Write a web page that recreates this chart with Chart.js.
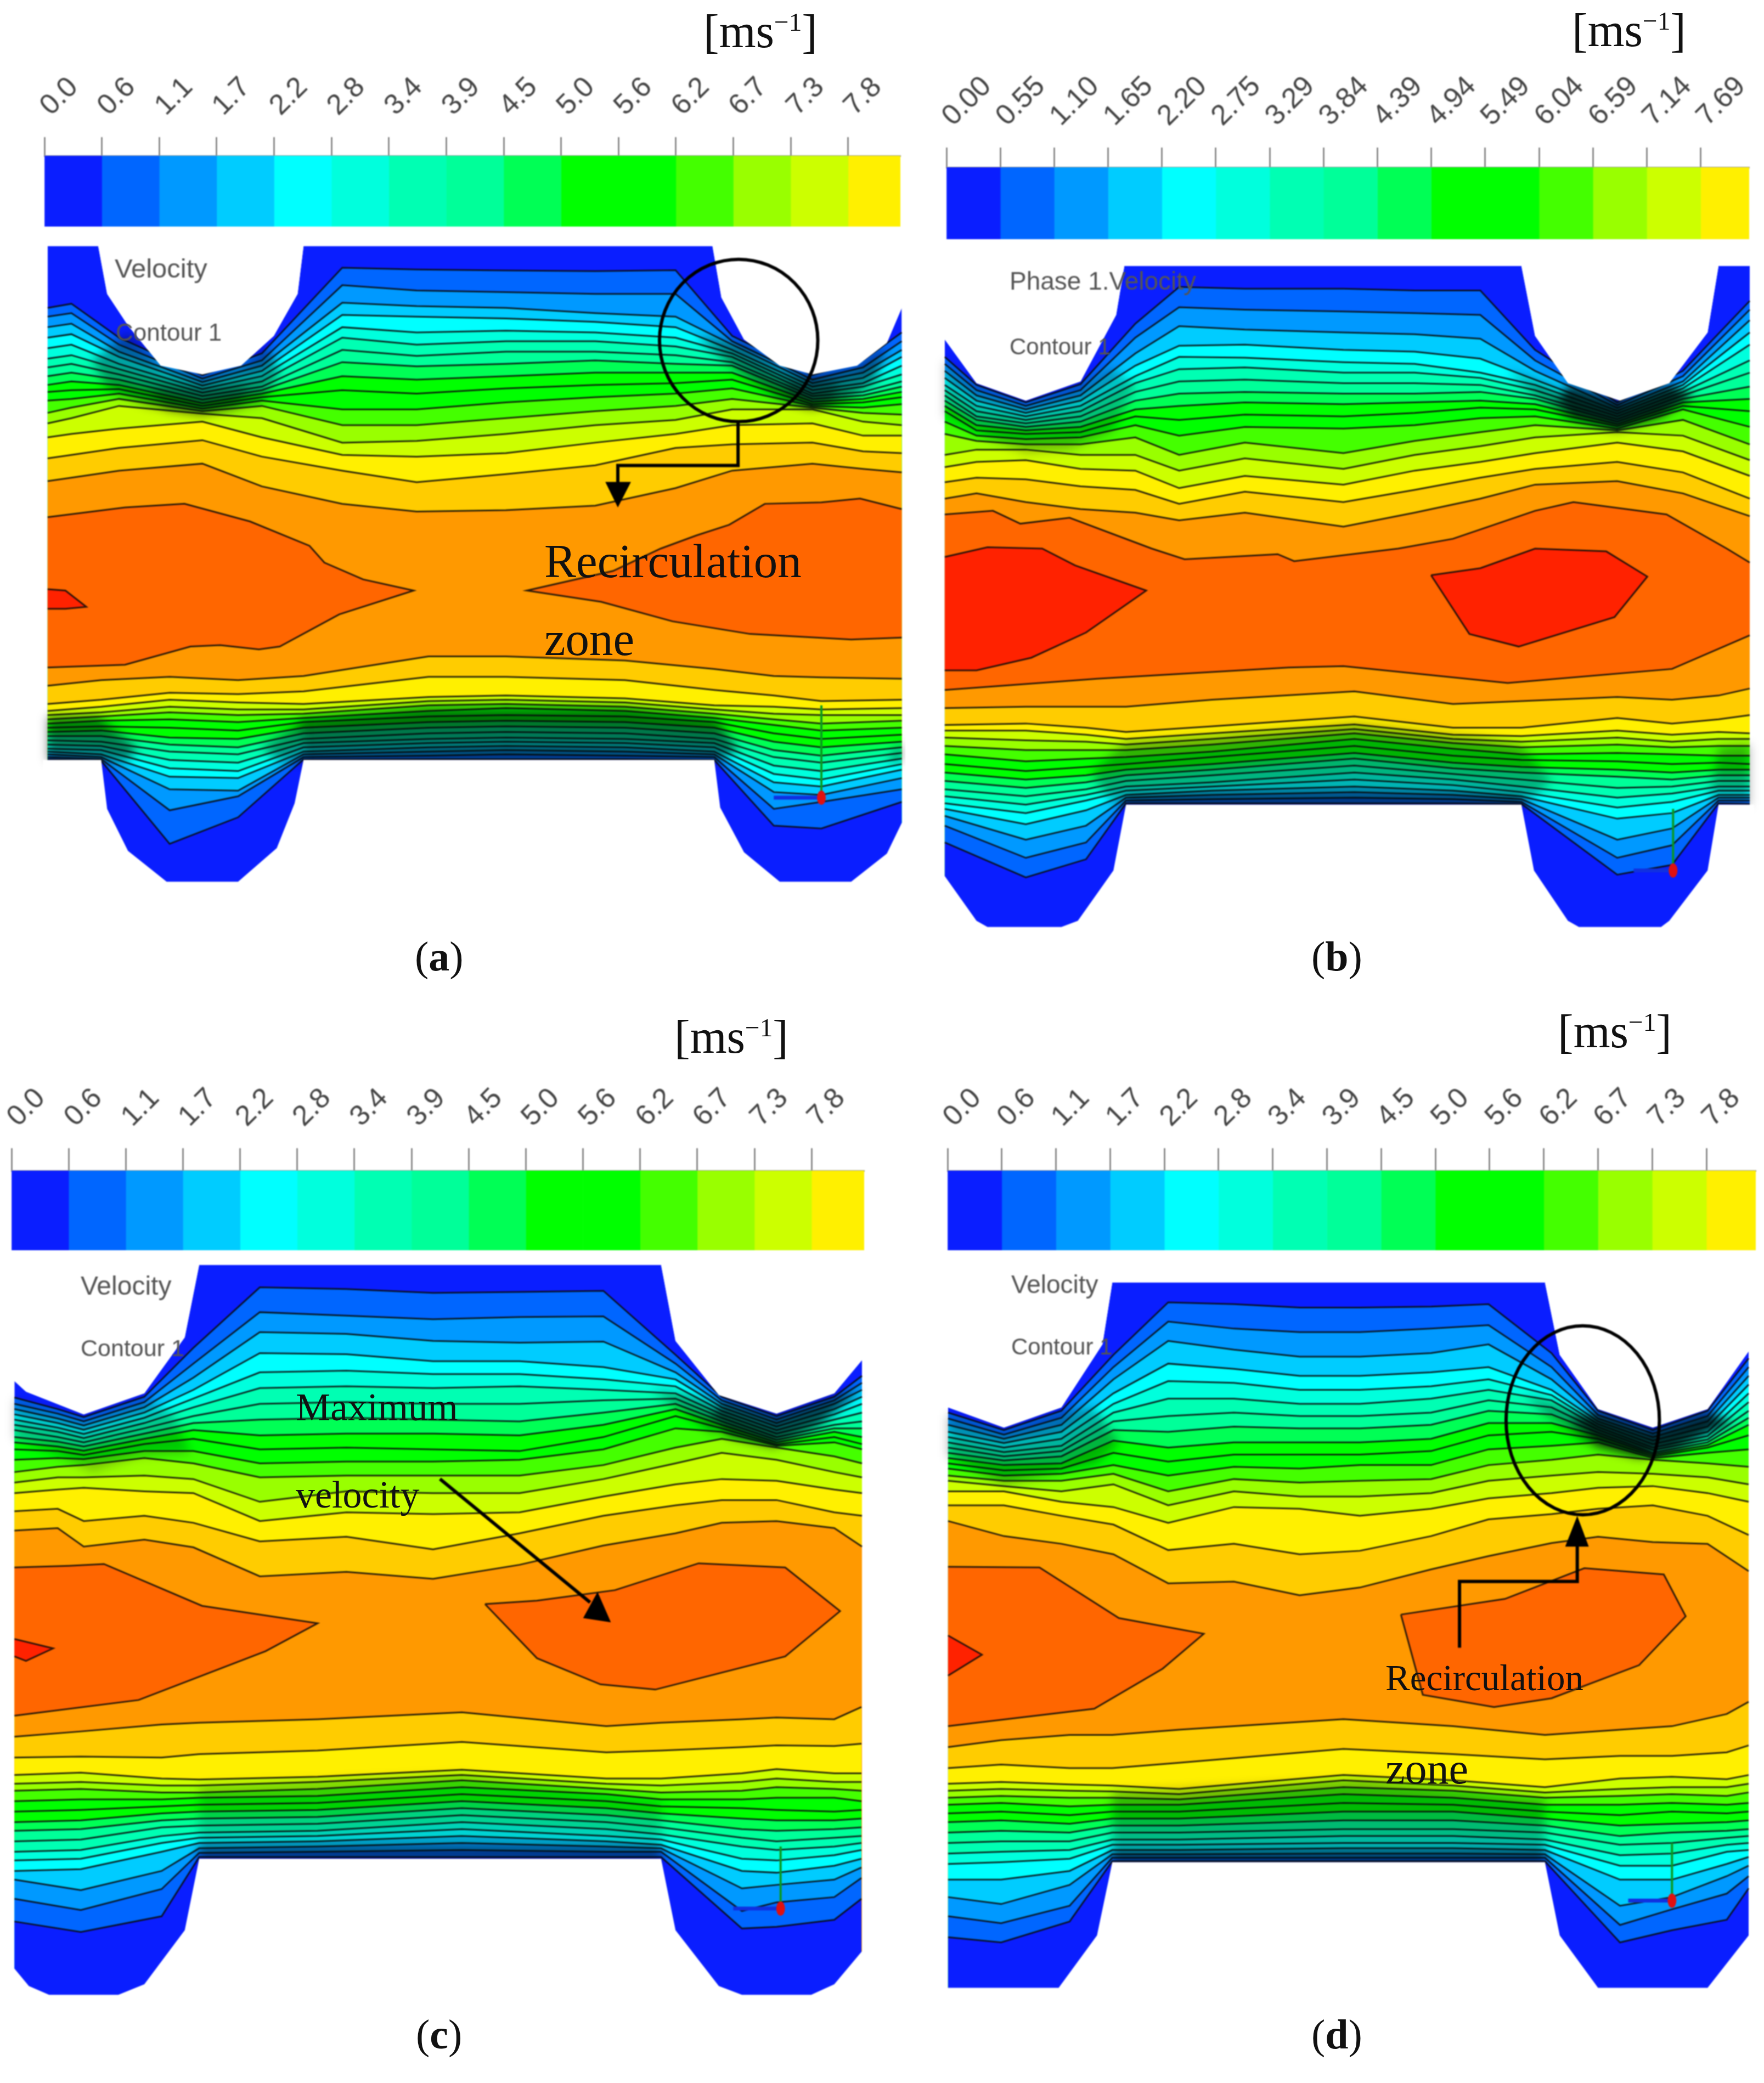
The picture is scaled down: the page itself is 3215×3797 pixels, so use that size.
<!DOCTYPE html>
<html>
<head>
<meta charset="utf-8">
<script src="https://cdn.jsdelivr.net/npm/chart.js@4"></script>
<style>
  html, body { margin: 0; background: #fff; }
  #page { position: relative; width: 3215px; height: 3797px; overflow: hidden; }
  canvas { position: absolute; filter: blur(1.2px); }
  .lbl { position: absolute; white-space: nowrap; line-height: 1; }
  .serif { font-family: "Liberation Serif", serif; color: #111; }
  .sans { font-family: "Liberation Sans", sans-serif; color: #555; filter: blur(.8px); }
  sup { font-size: .55em; line-height: 0; }
</style>
</head>
<body>
<div id="page"></div>
<script>
// Colour bands, wall -> core of the channel
const bandColors = ["#0a1eff","#0066ff","#0099ff","#00ccff","#00ffff","#00ffdd","#00ffb3","#00ff99","#00ff55","#00ff00","#00ff00","#44ff00","#99ff00","#ccff00","#fff000","#ffcc00","#ff9900","#ff6600","#ff2200"];
const legendColors = bandColors.slice(0, 15);
const ticksCoarse = ["0.0","0.6","1.1","1.7","2.2","2.8","3.4","3.9","4.5","5.0","5.6","6.2","6.7","7.3","7.8"];
const ticksFine = ["0.00","0.55","1.10","1.65","2.20","2.75","3.29","3.84","4.39","4.94","5.49","6.04","6.59","7.14","7.69"];

// Panel (a)
const aWallTop = [[80,703],[165,703],[180,840],[215,930],[270,1045],[340,1070],[405,1045],[460,960],[500,840],[510,703],[1197,703],[1212,850],[1250,970],[1310,1045],[1365,1070],[1440,1045],[1490,980],[1515,880]];
const aWallBottom = [[80,755],[170,755],[180,930],[215,1080],[280,1190],[400,1190],[465,1070],[495,910],[510,755],[1200,755],[1210,925],[1250,1085],[1310,1190],[1430,1190],[1490,1090],[1515,980]];
const aTopX = [80,120,200,340,440,575,700,850,1000,1135,1230,1365,1450,1515];
const aTop = [
  [880,905,935,965,995,1025,1050,1075,1100,1120,1145,1180,1210,1250,1310,1375],
  [868,895,925,955,985,1015,1040,1065,1090,1115,1140,1165,1195,1240,1300,1365],
  [965,985,1005,1020,1040,1055,1070,1085,1100,1112,1125,1140,1160,1225,1280,1345],
  [1072,1082,1092,1102,1112,1122,1132,1142,1152,1160,1168,1175,1182,1205,1258,1325],
  [1010,1030,1045,1060,1075,1090,1105,1115,1125,1135,1145,1160,1195,1250,1305,1390],
  [765,815,865,900,935,965,1000,1035,1075,1115,1170,1215,1265,1300,1345,1440],
  [770,830,875,905,950,985,1017,1047,1085,1125,1170,1215,1260,1305,1378,1462],
  [773,835,880,910,945,975,1005,1040,1075,1110,1150,1195,1240,1295,1355,1458],
  [775,840,895,920,950,975,1005,1030,1065,1100,1135,1175,1215,1265,1330,1445],
  [772,840,905,935,965,990,1015,1040,1065,1095,1125,1160,1200,1240,1280,1395],
  [960,975,985,1000,1010,1020,1035,1045,1065,1085,1110,1140,1170,1215,1270,1345],
  [1072,1085,1095,1105,1115,1125,1132,1140,1148,1155,1160,1165,1170,1210,1265,1325],
  [1030,1050,1065,1080,1095,1105,1120,1130,1140,1150,1165,1180,1205,1245,1290,1340],
  [950,975,1000,1020,1045,1070,1090,1105,1120,1135,1155,1185,1215,1245,1295,1350]
];
const aBottomX = [80,170,285,400,510,720,850,1050,1200,1300,1380,1515];
const aBottom = [
  [490,555,580,595,610,625,640,655,670,685,700,715,725,735,745,752],
  [470,540,565,585,600,615,635,650,670,690,705,720,735,745,752,758],
  [458,515,540,565,585,610,640,675,700,725,755,785,815,860,935,1055],
  [470,520,550,575,595,620,650,680,710,735,765,795,820,865,885,960],
  [455,510,555,575,590,605,620,640,660,680,695,710,725,735,745,753],
  [385,458,530,545,560,580,600,620,640,660,680,695,710,725,740,752],
  [385,458,525,540,555,570,595,615,635,655,675,690,705,720,735,752],
  [400,470,535,550,565,580,600,620,640,660,680,695,710,725,740,752],
  [430,505,560,575,590,605,620,640,660,680,695,710,725,735,745,755],
  [455,525,565,590,610,630,660,690,720,745,775,805,835,870,930,990],
  [460,545,575,595,625,650,680,710,740,765,795,825,850,880,905,1000],
  [465,540,570,595,615,640,665,690,710,730,750,770,790,820,860,905]
];
const aIslands = [
  [17,[[80,-112],[210,-147],[310,-160],[420,-97],[520,-10],[545,50],[610,110],[695,150],[570,235],[470,350],[435,360],[370,345],[320,350],[210,415],[80,425]]],
  [17,[[1515,-141],[1445,-179],[1380,-165],[1285,-160],[1225,-85],[1170,-47],[1110,0],[1030,80],[885,150],[1010,190],[1130,260],[1260,305],[1430,325],[1515,318]]],
  [18,[[80,145],[110,150],[145,208],[110,215],[80,215]]]
];
// Dark mesh where the contour lines bunch up: [opacity, axis, outline]
const aMesh = [
  [.38,"yT",[[155,1030],[215,950],[270,1050],[340,1075],[405,1050],[450,990],[470,1060],[440,1150],[340,1185],[250,1160],[180,1110]]],
  [.35,"yT",[[250,1110],[340,1100],[420,1105],[400,1160],[340,1182],[280,1170]]],
  [.5,"yT",[[1170,960],[1250,985],[1310,1050],[1365,1075],[1440,1050],[1490,990],[1470,1090],[1420,1145],[1365,1165],[1310,1140],[1240,1060]]],
  [.4,"yT",[[1320,1090],[1365,1085],[1410,1090],[1400,1150],[1365,1165],[1330,1150]]],
  [.5,"yB",[[80,600],[165,600],[230,710],[215,760],[80,760]]],
  [.55,"yB",[[505,610],[720,570],[1050,570],[1205,610],[1240,720],[1205,760],[510,760]]],
  [.4,"yB",[[440,710],[510,615],[510,760],[470,760]]],
  [.4,"yB",[[1515,690],[1490,760],[1515,760]]]
];

// Panel (b)
const bWallTop = [[72,970],[130,1095],[220,1145],[320,1090],[385,900],[400,760],[1125,760],[1150,960],[1210,1095],[1305,1145],[1395,1095],[1465,950],[1485,760],[1542,760]];
const bWallBottom = [[72,1170],[130,1330],[150,1352],[285,1352],[315,1330],[380,1150],[403,915],[1125,915],[1148,1150],[1210,1330],[1230,1352],[1380,1352],[1395,1330],[1465,1150],[1485,915],[1542,915]];
const bTopX = [72,130,220,320,420,500,620,800,930,1050,1150,1300,1420,1542];
const bTop = [
  [1020,1040,1060,1080,1100,1115,1130,1145,1160,1175,1205,1240,1300,1335,1378,1425],
  [1100,1115,1130,1145,1160,1175,1190,1200,1215,1230,1245,1260,1285,1320,1365,1410],
  [1150,1160,1170,1180,1190,1200,1210,1220,1230,1240,1255,1270,1285,1315,1370,1435],
  [1098,1115,1130,1145,1160,1175,1190,1205,1220,1235,1250,1270,1300,1340,1390,1455],
  [925,965,1010,1045,1075,1095,1120,1145,1170,1190,1215,1250,1300,1345,1400,1465],
  [820,878,932,988,1020,1055,1090,1125,1160,1200,1245,1300,1345,1395,1440,1487],
  [825,885,942,985,1022,1050,1085,1120,1150,1185,1220,1265,1310,1360,1405,1465],
  [825,890,950,1000,1035,1065,1095,1125,1155,1190,1225,1295,1340,1385,1435,1505],
  [830,895,955,1005,1040,1065,1095,1125,1150,1180,1215,1260,1300,1345,1400,1465],
  [830,900,968,1025,1065,1080,1100,1120,1145,1165,1195,1235,1275,1320,1365,1425],
  [1000,1030,1060,1085,1100,1115,1130,1140,1155,1170,1190,1215,1250,1295,1340,1385],
  [1150,1158,1166,1174,1182,1190,1198,1205,1212,1218,1225,1230,1235,1265,1320,1375],
  [1060,1075,1090,1100,1110,1120,1130,1140,1150,1160,1170,1200,1245,1290,1350,1410],
  [860,885,915,950,985,1030,1065,1105,1140,1175,1220,1270,1315,1360,1425,1475]
];
const bBottomX = [72,220,330,403,560,820,1000,1125,1300,1400,1485,1542];
const bBottom = [
  [570,630,650,675,705,735,770,800,830,860,885,910,930,955,990,1050],
  [565,625,650,685,720,760,795,825,855,885,915,945,985,1040,1105,1175],
  [565,640,665,690,720,750,780,810,835,860,880,900,935,990,1050,1110],
  [565,655,680,700,720,745,770,790,810,830,850,865,880,890,900,910],
  [540,635,660,680,700,725,745,770,790,810,835,850,865,880,895,910],
  [510,600,628,645,660,680,705,730,750,775,800,825,850,870,890,910],
  [555,640,665,680,695,715,740,765,785,805,825,845,865,880,895,910],
  [545,640,670,690,710,735,755,780,800,825,850,870,885,895,905,912],
  [530,605,650,675,700,730,760,790,815,855,890,925,965,1040,1105,1165],
  [540,625,665,690,710,735,770,800,825,850,875,905,945,1000,1060,1130],
  [525,610,655,680,705,740,765,790,810,830,850,865,880,890,900,910],
  [500,595,660,680,705,740,770,790,810,830,850,865,880,890,900,912]
];
const bIslands = [
  [17,[[72,-122],[160,-135],[210,-89],[300,-110],[420,-22],[450,0],[510,38],[680,20],[710,45],[900,0],[1000,-35],[1150,-135],[1220,-166],[1390,-122],[1500,0],[1542,50],[1542,310],[1400,430],[1100,480],[800,420],[700,425],[350,465],[72,505]]],
  [18,[[72,30],[150,-5],[250,0],[310,60],[440,150],[330,300],[230,390],[130,435],[72,435]]],
  [18,[[960,95],[1050,70],[1150,0],[1280,10],[1355,100],[1295,245],[1120,350],[1030,305]]]
];
const bMesh = [
  [.25,"yT",[[72,1030],[130,1100],[220,1150],[320,1095],[375,1050],[420,1100],[380,1230],[300,1285],[220,1295],[150,1250],[72,1190]]],
  [.85,"yT",[[1190,1145],[1210,1100],[1305,1150],[1395,1100],[1440,1130],[1380,1190],[1300,1228],[1215,1195]]],
  [.4,"yT",[[1100,1060],[1190,1110],[1215,1200],[1150,1130]]],
  [.3,"yB",[[403,690],[560,670],[820,625],[1050,675],[1125,705],[1180,830],[1130,918],[403,918],[375,905],[340,800]]],
  [.45,"yB",[[403,880],[1125,880],[1125,918],[403,918]]],
  [.3,"yB",[[1485,710],[1542,700],[1542,918],[1485,918],[1470,880]]]
];

// Panel (c)
const cWallTop = [[25,1125],[45,1155],[145,1220],[250,1160],[320,1000],[345,793],[1145,793],[1170,1010],[1245,1165],[1345,1218],[1445,1160],[1493,1065]];
const cWallBottom = [[25,1240],[50,1290],[85,1315],[205,1315],[250,1285],[320,1130],[345,925],[1145,925],[1170,1130],[1245,1290],[1285,1315],[1405,1315],[1445,1285],[1493,1190]];
const cTopX = [25,100,145,250,335,450,600,750,900,1045,1170,1250,1345,1445,1493];
const cTop = [
  [1172,1190,1205,1220,1235,1250,1265,1285,1300,1320,1350,1385,1415,1445,1497,1552],
  [1205,1218,1232,1245,1258,1270,1285,1298,1312,1325,1345,1370,1400,1435,1490,1545],
  [1228,1240,1252,1264,1276,1288,1300,1312,1324,1336,1348,1365,1400,1430,1525,1598],
  [1170,1185,1200,1215,1230,1245,1260,1275,1290,1305,1325,1345,1395,1440,1510,1578],
  [1030,1075,1115,1150,1175,1200,1225,1245,1265,1290,1325,1360,1405,1445,1530,1600],
  [857,928,985,1045,1100,1145,1190,1235,1280,1320,1360,1400,1470,1525,1583,1683],
  [862,938,990,1048,1095,1140,1185,1230,1275,1315,1355,1395,1440,1500,1570,1670],
  [873,948,1010,1068,1105,1145,1190,1235,1275,1320,1355,1395,1445,1505,1606,1690],
  [870,942,1015,1068,1105,1140,1190,1240,1280,1325,1350,1395,1445,1500,1560,1650],
  [867,940,1012,1085,1120,1150,1180,1215,1250,1285,1320,1365,1405,1455,1510,1595],
  [1050,1075,1100,1120,1140,1160,1175,1190,1205,1225,1260,1315,1360,1420,1480,1560],
  [1170,1180,1190,1200,1210,1220,1230,1240,1250,1260,1270,1290,1330,1405,1465,1530],
  [1225,1235,1245,1255,1265,1275,1285,1293,1300,1306,1310,1315,1350,1410,1465,1525],
  [1170,1180,1190,1205,1220,1235,1250,1260,1270,1285,1300,1340,1385,1435,1500,1545],
  [1110,1130,1150,1170,1190,1215,1240,1260,1285,1305,1320,1360,1400,1445,1510,1598]
];
const cBottomX = [25,140,280,345,550,800,1050,1145,1285,1345,1445,1492];
const cBottom = [
  [575,635,685,710,730,760,790,820,845,875,905,930,960,985,1040,1105],
  [560,632,678,705,725,755,785,815,840,870,900,925,955,1015,1072,1135],
  [540,635,695,715,735,755,775,795,815,835,860,880,905,960,1012,1090],
  [535,625,698,715,735,750,770,790,810,830,850,865,880,895,908,920],
  [525,615,690,705,725,745,765,785,805,825,845,860,875,890,905,920],
  [505,590,670,685,700,720,740,760,780,800,820,840,860,880,900,920],
  [545,620,695,710,725,740,760,780,800,820,840,860,875,890,905,920],
  [535,615,695,715,735,755,775,795,815,835,855,870,885,895,905,920],
  [525,605,680,705,730,755,780,810,840,865,890,925,960,1010,1075,1125],
  [520,600,668,695,720,750,785,815,845,875,900,930,965,1000,1050,1120],
  [525,602,680,705,725,750,790,815,840,865,890,915,945,985,1035,1100],
  [490,595,680,705,730,760,785,810,835,860,880,900,925,950,980,1040]
];
const cIslands = [
  [17,[[25,90],[120,85],[180,80],[350,200],[550,250],[460,330],[240,470],[25,515]]],
  [17,[[840,195],[930,185],[1065,155],[1210,78],[1360,90],[1455,215],[1360,345],[1135,440],[1040,425],[930,350]]],
  [18,[[25,295],[92,322],[45,358],[25,345]]]
];
const cMesh = [
  [.22,"yT",[[25,1175],[145,1230],[250,1170],[300,1220],[330,1330],[240,1340],[160,1385],[90,1330],[25,1290]]],
  [.7,"yT",[[1230,1230],[1250,1180],[1345,1228],[1445,1172],[1490,1150],[1420,1250],[1340,1312],[1260,1280]]],
  [.35,"yT",[[1130,1150],[1240,1180],[1240,1280],[1180,1210]]],
  [.18,"yB",[[345,715],[800,685],[1145,760],[1145,930],[345,930]]],
  [.4,"yB",[[345,890],[1145,890],[1145,930],[345,930]]]
];

// Panel (d)
const dWallTop = [[78,1200],[180,1258],[285,1200],[360,1020],[378,843],[1168,843],[1195,1050],[1265,1205],[1365,1258],[1465,1205],[1540,1040]];
const dWallBottom = [[78,1295],[280,1295],[350,1145],[378,935],[1168,935],[1195,1145],[1265,1295],[1465,1295],[1540,1145]];
const dTopX = [78,180,285,380,480,600,720,830,960,1065,1180,1265,1365,1465,1540];
const dTop = [
  [1215,1232,1250,1270,1285,1300,1315,1330,1345,1360,1375,1395,1410,1440,1480,1525],
  [1265,1278,1290,1302,1315,1328,1340,1352,1365,1380,1395,1410,1425,1440,1480,1568],
  [1210,1230,1250,1270,1290,1310,1325,1340,1360,1375,1390,1410,1440,1470,1510,1590],
  [1050,1085,1120,1160,1190,1215,1240,1265,1295,1330,1365,1390,1420,1485,1535,1620],
  [900,955,1010,1075,1125,1175,1225,1270,1315,1355,1395,1440,1480,1530,1608,1703],
  [905,975,1035,1090,1130,1175,1215,1255,1300,1335,1370,1405,1440,1485,1590,1698],
  [915,985,1055,1110,1150,1190,1225,1260,1300,1335,1375,1415,1455,1490,1620,1737],
  [915,985,1055,1110,1150,1190,1225,1260,1300,1335,1365,1410,1455,1510,1610,1715],
  [912,975,1045,1100,1140,1175,1215,1250,1290,1325,1365,1405,1445,1490,1568,1663],
  [905,965,1020,1085,1120,1150,1180,1210,1245,1280,1320,1365,1410,1460,1520,1625],
  [1045,1085,1120,1150,1165,1180,1200,1220,1245,1270,1310,1350,1395,1445,1505,1588],
  [1210,1222,1232,1240,1248,1256,1264,1272,1280,1290,1300,1335,1385,1430,1490,1570],
  [1265,1275,1285,1295,1305,1315,1322,1330,1335,1340,1345,1350,1390,1425,1480,1585],
  [1210,1225,1240,1255,1270,1282,1292,1300,1308,1315,1330,1360,1400,1445,1510,1590],
  [1060,1085,1110,1135,1160,1185,1210,1230,1250,1280,1320,1370,1420,1470,1565,1668]
];
const dBottomX = [78,175,300,378,500,800,1000,1168,1305,1400,1500,1540];
const dBottom = [
  [605,665,710,730,750,770,795,820,850,880,910,940,985,1035,1090,1150],
  [585,655,705,725,745,765,790,815,845,875,905,935,985,1055,1110,1165],
  [570,665,712,730,750,775,800,825,850,875,900,925,960,1000,1060,1105],
  [570,665,715,732,750,770,790,810,830,850,870,885,900,912,922,932],
  [555,650,725,740,755,770,790,810,830,850,870,885,900,912,922,932],
  [525,610,685,700,720,740,765,790,815,840,860,880,895,910,922,932],
  [545,625,700,715,730,750,770,790,815,840,860,880,895,910,922,932],
  [570,640,720,735,750,770,790,810,830,850,870,885,900,912,922,932],
  [555,630,695,725,745,770,800,830,860,885,915,945,985,1060,1115,1165],
  [545,630,690,720,740,765,790,825,850,880,910,945,985,1035,1070,1130],
  [510,620,697,720,745,770,795,820,845,865,885,905,940,975,1025,1100],
  [475,600,685,710,735,765,790,815,840,860,880,900,920,945,975,1010]
];
const dIslands = [
  [17,[[78,88],[245,90],[390,235],[545,280],[470,380],[345,495],[78,545]]],
  [17,[[905,225],[1095,180],[1240,92],[1385,110],[1425,230],[1340,370],[1180,465],[1075,490],[945,455]]],
  [18,[[78,285],[140,340],[78,400]]]
];
const dMesh = [
  [.3,"yT",[[78,1220],[180,1268],[285,1210],[345,1200],[390,1300],[350,1360],[180,1420],[78,1340]]],
  [.85,"yT",[[1215,1230],[1265,1215],[1365,1268],[1465,1215],[1510,1240],[1400,1325],[1340,1342],[1260,1310]]],
  [.35,"yT",[[1130,1165],[1230,1210],[1250,1310],[1170,1220]]],
  [.28,"yB",[[378,735],[830,700],[1168,755],[1168,940],[378,940]]],
  [.45,"yB",[[378,900],[1168,900],[1168,940],[378,940]]]
];

// Page placement of each panel and the read-off scale of its axes
const panels = [
  { left:0, top:0, w:1650, h:1800, xMax:1521, yTopMax:2822, yBotMin:-1960, yBotMax:1568,
    wallTop:aWallTop, wallBottom:aWallBottom, topX:aTopX, topCols:aTop, botX:aBottomX, botCols:aBottom, islands:aIslands, mesh:aMesh,
    notes:{ ellipse:[1241,973,133,232,"yT"], lines:[[[1240,-457],[1240,-297],[1038,-297],[1038,-210]]], heads:[[[1017,-238],[1060,-238],[1038,-147]]], triad:[1380,560,890,1300] },
    bar:{ x0:81, x1:1641, y0:284, y1:411, tickTop:250, cells:14.91, labels:ticksCoarse } },
  { left:1650, top:0, w:1565, h:1800, xMax:1568, yTopMax:2822, yBotMin:-1960, yBotMax:1568,
    wallTop:bWallTop, wallBottom:bWallBottom, topX:bTopX, topCols:bTop, botX:bBottomX, botCols:bBottom, islands:bIslands, mesh:bMesh,
    notes:{ lines:[], heads:[], triad:[1402,930,1150,1330] },
    bar:{ x0:1725, x1:3188, y0:305, y1:434, tickTop:269, cells:14.9, labels:ticksFine } },
  { left:0, top:1800, w:1650, h:1997, xMax:1568, yTopMax:3131, yBotMin:-1573, yBotMax:1568,
    wallTop:cWallTop, wallBottom:cWallBottom, topX:cTopX, topCols:cTop, botX:cBottomX, botCols:cBottom, islands:cIslands, mesh:cMesh,
    notes:{ lines:[[[762,-164],[1022,190]]], heads:[[[1035,160],[1058,247],[1010,235]]], triad:[1352,890,1068,1270] },
    bar:{ x0:21, x1:1575, y0:2134, y1:2277, tickTop:2093, cells:14.92, labels:ticksCoarse } },
  { left:1650, top:1800, w:1565, h:1997, xMax:1568, yTopMax:3131, yBotMin:-1573, yBotMax:1568,
    wallTop:dWallTop, wallBottom:dWallBottom, topX:dTopX, topCols:dTop, botX:dBottomX, botCols:dBottom, islands:dIslands, mesh:dMesh,
    notes:{ ellipse:[1237,1237,140,270,"yT"], lines:[[[1012,320],[1012,130],[1227,130],[1227,0]]], heads:[[[1205,30],[1248,30],[1227,-58]]], triad:[1400,880,1045,1320] },
    bar:{ x0:1727, x1:3200, y0:2134, y1:2277, tickTop:2093, cells:14.91, labels:ticksCoarse } }
];

// Text placed over the figure: [html, class, left, baseline, size]
const texts = [
  ["[ms<sup>\u22121</sup>]","serif",1282,88,86],["[ms<sup>\u22121</sup>]","serif",2865,86,86],
  ["[ms<sup>\u22121</sup>]","serif",1229,1921,86],["[ms<sup>\u22121</sup>]","serif",2839,1911,86],
  ["(<b>a</b>)","serif",756,1770,76],["(<b>b</b>)","serif",2390,1770,76],
  ["(<b>c</b>)","serif",758,3735,76],["(<b>d</b>)","serif",2390,3735,76],
  ["Velocity","sans",209,507,49],["Contour 1","sans",211,622,44],
  ["Phase 1.Velocity","sans",1840,529,46],["Contour 1","sans",1840,647,42],
  ["Velocity","sans",147,2361,48],["Contour 1","sans",147,2473,43],
  ["Velocity","sans",1843,2358,46],["Contour 1","sans",1843,2470,42],
  ["Recirculation","serif",992,1054,87],["zone","serif",992,1196,87],
  ["Maximum","serif",539,2591,71],["velocity","serif",539,2750,70],
  ["Recirculation","serif",2525,3083,67],["zone","serif",2525,3253,80]
];

const page = document.querySelector("#page");

function addCanvas(left, top, w, h) {
  let c = document.createElement("canvas");
  c.width = w;
  c.height = h;
  c.style.left = left + "px";
  c.style.top = top + "px";
  c.style.width = w + "px";
  c.style.height = h + "px";
  page.appendChild(c);
  return c;
}

function lineDataset(points, yAxisID, band, fill) {
  return {
    data: points, yAxisID: yAxisID, xAxisID: "x", showLine: true, pointRadius: 0,
    borderColor: "rgba(10,10,10,.85)", borderWidth: 3, fill: fill,
    backgroundColor: bandColors[band], tension: 0
  };
}

// soft edge for the mesh fills: filter goes on before the next dataset's fill
const meshBlurPlugin = {
  id: "meshBlur",
  afterDatasetDraw(chart, args) {
    const next = chart.data.datasets[args.index + 1];
    chart.ctx.filter = next && next.isMesh ? "blur(9px)" : "none";
  }
};

// Notes (circle, arrows, little axis triad) use the same scales as the contours
const notesPlugin = {
  id: "notes",
  afterDatasetsDraw(chart, args, opts) {
    const n = opts.notes, ctx = chart.ctx, sx = chart.scales.x, sy = chart.scales.yB, st = chart.scales.yT;
    ctx.save();
    ctx.filter = "none";
    const tr = n.triad;
    ctx.strokeStyle = "#0a9a20"; ctx.lineWidth = 4;
    ctx.beginPath();
    ctx.moveTo(sx.getPixelForValue(tr[0]), sy.getPixelForValue(tr[1]));
    ctx.lineTo(sx.getPixelForValue(tr[0]), sy.getPixelForValue(tr[2]));
    ctx.stroke();
    ctx.strokeStyle = "#1030e0"; ctx.lineWidth = 7;
    ctx.beginPath();
    ctx.moveTo(sx.getPixelForValue(tr[0]), sy.getPixelForValue(tr[2]));
    ctx.lineTo(sx.getPixelForValue(tr[3]), sy.getPixelForValue(tr[2]));
    ctx.stroke();
    ctx.fillStyle = "#e01010";
    ctx.beginPath();
    ctx.ellipse(sx.getPixelForValue(tr[0]), sy.getPixelForValue(tr[2]), 8, 13, 0, 0, Math.PI * 2);
    ctx.fill();

    ctx.strokeStyle = "#000"; ctx.fillStyle = "#000"; ctx.lineWidth = 6;
    n.lines.forEach(pts => {
      ctx.beginPath();
      pts.forEach((p, i) => ctx[i ? "lineTo" : "moveTo"](sx.getPixelForValue(p[0]), sy.getPixelForValue(p[1])));
      ctx.stroke();
    });
    n.heads.forEach(pts => {
      ctx.beginPath();
      pts.forEach((p, i) => ctx[i ? "lineTo" : "moveTo"](sx.getPixelForValue(p[0]), sy.getPixelForValue(p[1])));
      ctx.closePath();
      ctx.fill();
    });
    if (n.ellipse) {
      const e = n.ellipse;
      ctx.beginPath();
      ctx.ellipse(sx.getPixelForValue(e[0]), st.getPixelForValue(e[1]),
        Math.abs(sx.getPixelForValue(e[0] + e[2]) - sx.getPixelForValue(e[0])),
        Math.abs(st.getPixelForValue(e[1] + e[3]) - st.getPixelForValue(e[1])), 0, 0, Math.PI * 2);
      ctx.stroke();
    }
    ctx.restore();
  }
};

// white over everything outside the wall, a bit wider so no fill edges show through
function whiteMask(points, axis, fill) {
  const n = points.length;
  let s = lineDataset([[points[0][0] - 8, points[0][1]]].concat(points, [[points[n - 1][0] + 8, points[n - 1][1]]]), axis, 0, fill);
  s.backgroundColor = "#fff";
  s.borderWidth = 0;
  return s;
}

function buildContour(p) {
  let sets = [];
  // painted outside-in from the top, each line fills everything below it
  let wall = lineDataset(p.wallTop, "yT", 0, "start");
  wall.borderWidth = 0;
  sets.push(wall);
  for (let l = 0; l < 16; l++) {
    sets.push(lineDataset(p.topX.map((x, i) => [x, p.topCols[i][l]]), "yT", l + 1, "start"));
  }
  // then the lower half, core -> wall (columns are listed from the core outwards)
  for (let l = 0; l < 16; l++) {
    sets.push(lineDataset(p.botX.map((x, i) => [x, p.botCols[i][l]]), "yB", 15 - l, "start"));
  }
  p.islands.forEach(isl => {
    const loop = isl[1].concat([isl[1][0]]);
    let shape = lineDataset(loop, "yB", isl[0], "shape");
    shape.borderWidth = 0;
    sets.push(shape);
    // outline kept apart: styled segments would split the fill, and the panel edge has no line
    let outline = lineDataset(loop, "yB", isl[0], false);
    outline.segment = { borderColor: c => c.p0.parsed.x === c.p1.parsed.x ? "transparent" : undefined };
    sets.push(outline);
  });
  p.mesh.forEach(m => {
    let s = lineDataset(m[2].concat([m[2][0]]), m[1], 0, "shape");
    s.backgroundColor = "rgba(0,10,10," + m[0] + ")";
    s.borderWidth = 0;
    s.isMesh = true;
    sets.push(s);
  });
  sets.push(whiteMask(p.wallTop, "yT", "end"));
  sets.push(whiteMask(p.wallBottom, "yB", "start"));
  sets.forEach((s, i) => s.order = sets.length - i);

  new Chart(addCanvas(p.left, p.top, p.w, p.h), {
    type: "scatter",
    data: { datasets: sets },
    plugins: [meshBlurPlugin, notesPlugin],
    options: {
      responsive: false, animation: false, devicePixelRatio: 1,
      layout: { padding: 0 },
      plugins: { legend: { display: false }, tooltip: { enabled: false }, notes: { notes: p.notes } },
      scales: {
        x: { type: "linear", display: false, min: 0, max: p.xMax },
        yT: { type: "linear", display: false, reverse: true, min: 0, max: p.yTopMax },
        yB: { type: "linear", display: false, reverse: true, min: p.yBotMin, max: p.yBotMax }
      }
    }
  });
}

function buildColorBar(b) {
  const pad = 90, headroom = 175;
  const top = b.tickTop - headroom;
  const w = b.x1 - b.x0 + pad * 2, h = b.y1 - top + 2;
  new Chart(addCanvas(b.x0 - pad, top, w, h), {
    type: "bar",
    data: {
      labels: ["v"],
      datasets: legendColors.map(color => ({ data: [1], backgroundColor: color, stack: "s", barPercentage: 1, categoryPercentage: 1 }))
    },
    options: {
      indexAxis: "y", responsive: false, animation: false, devicePixelRatio: 1,
      layout: { padding: { left: pad, right: pad, top: 0, bottom: 0 } },
      plugins: { legend: { display: false }, tooltip: { enabled: false } },
      scales: {
        x: {
          type: "linear", position: "top", stacked: true, min: 0, max: b.cells,
          afterFit: s => { s.height = b.y0 - top; s.paddingLeft = 0; s.paddingRight = 0; },
          afterBuildTicks: s => { s.ticks = b.labels.map((t, i) => ({ value: i })); },
          border: { color: "#999", width: 3 },
          grid: { drawOnChartArea: false, drawTicks: true, tickLength: b.y0 - b.tickTop, tickColor: "#555", tickWidth: 2 },
          ticks: {
            autoSkip: false, maxRotation: 45, minRotation: 45, padding: 26, labelOffset: 46,
            color: "#444", font: { family: "Liberation Sans", size: 52 },
            callback: (v, i) => b.labels[i]
          }
        },
        y: { type: "category", display: false, stacked: true }
      }
    }
  });
}

panels.forEach(p => { buildContour(p); buildColorBar(p.bar); });

texts.forEach(t => {
  let d = document.createElement("div");
  d.className = "lbl " + t[1];
  d.innerHTML = t[0];
  d.style.left = t[2] + "px";
  d.style.top = (t[3] - t[4] * 0.86) + "px";
  d.style.fontSize = t[4] + "px";
  page.appendChild(d);
});
</script>
</body>
</html>
